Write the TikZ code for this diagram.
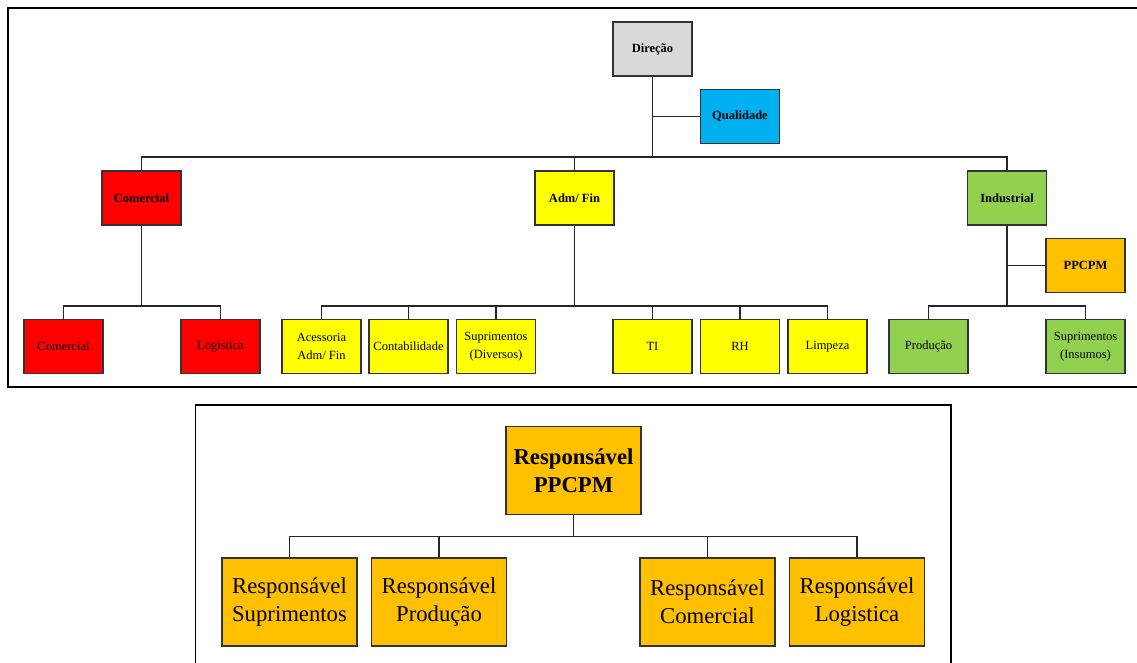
\documentclass[tikz,border=0pt]{standalone}
\usepackage{fontspec}
\setmainfont{Liberation Serif}
\definecolor{cinza}{HTML}{D9D9D9}
\definecolor{azul}{HTML}{00B0F0}
\definecolor{vermelho}{HTML}{FF0000}
\definecolor{amarelo}{HTML}{FFFF00}
\definecolor{verde}{HTML}{92D050}
\definecolor{laranja}{HTML}{FFC000}
\begin{document}
\begin{tikzpicture}[x=1pt, y=-1pt,
	box/.style={rectangle, draw=black!80, line width=1.2pt, minimum width=79pt, minimum height=54pt, inner sep=1pt, align=center, font=\fontsize{12.5}{17.5}\selectfont},
	head/.style={box, font=\fontsize{12.5}{17.5}\selectfont\bfseries},
	resp/.style={box, minimum width=135pt, minimum height=88pt, font=\fontsize{22.7}{28.3}\selectfont},
	link/.style={draw=black!85, line width=1.2pt}]

	\useasboundingbox (0,0) rectangle (1137,663);
	\draw[line width=2pt] (8,8) rectangle (1150,386.5);
	\draw[line width=1.5pt] (195.5,405) rectangle (951,680);

	% organograma geral
	\node (dir) [head, fill=cinza] at (652.5, 49) {Direção};
	\node (qual) [head, fill=azul] at (740, 116.5) {Qualidade};

	\node (com) [head, fill=vermelho] at (141.5, 198) {Comercial};
	\node (adm) [head, fill=amarelo] at (574.5, 198) {Adm/ Fin};
	\node (ind) [head, fill=verde] at (1007, 198) {Industrial};
	\node (ppcpm) [head, fill=laranja] at (1085.5, 265.5) {PPCPM};

	\node (comA) [box, fill=vermelho] at (63.5, 346.5) {Comercial};
	\node (logA) [box, fill=vermelho] at (220.5, 346.5) {Logistica};
	\node (aces) [box, fill=amarelo] at (321.5, 346.5) {Acessoria\\Adm/ Fin};
	\node (cont) [box, fill=amarelo] at (408.5, 346.5) {Contabilidade};
	\node (supD) [box, fill=amarelo] at (496, 346.5) {Suprimentos\\(Diversos)};
	\node (ti) [box, fill=amarelo] at (652.5, 346.5) {TI};
	\node (rh) [box, fill=amarelo] at (740, 346.5) {RH};
	\node (limp) [box, fill=amarelo] at (827.5, 346.5) {Limpeza};
	\node (prod) [box, fill=verde] at (928.5, 346.5) {Produção};
	\node (supI) [box, fill=verde] at (1085.5, 346.5) {Suprimentos\\(Insumos)};

	\coordinate (busDir) at (652.5, 157);
	\coordinate (busCom) at (141.5, 306);
	\coordinate (busAdm) at (574.5, 306);
	\coordinate (busInd) at (1007, 306);

	\draw[link] (dir) -- (busDir);
	\draw[link] (dir) |- (qual);
	\draw[link] (com) |- (busDir);
	\draw[link] (adm) |- (busDir);
	\draw[link] (ind) |- (busDir);

	\draw[link] (com) -- (busCom);
	\draw[link] (comA) |- (busCom);
	\draw[link] (logA) |- (busCom);

	\draw[link] (adm) -- (busAdm);
	\foreach \n in {aces, cont, supD, ti, rh, limp}
		\draw[link] (\n) |- (busAdm);

	\draw[link] (ind) -- (busInd);
	\draw[link] (ppcpm) -| (busInd);
	\draw[link] (prod) |- (busInd);
	\draw[link] (supI) |- (busInd);

	% equipe do PPCPM
	\node (rPpcpm) [resp, fill=laranja, font=\fontsize{22.7}{28.3}\selectfont\bfseries] at (573.5, 470.5) {Responsável\\PPCPM};
	\node (rSup) [resp, fill=laranja] at (289.5, 602) {Responsável\\Suprimentos};
	\node (rProd) [resp, fill=laranja] at (439, 602) {Responsável\\Produção};
	\node (rCom) [resp, fill=laranja] at (707.5, 602) {Responsável\\Comercial};
	\node (rLog) [resp, fill=laranja] at (857, 602) {Responsável\\Logistica};

	\coordinate (busResp) at (573.5, 536.5);
	\draw[link] (rPpcpm) -- (busResp);
	\foreach \n in {rSup, rProd, rCom, rLog}
		\draw[link] (\n) |- (busResp);

\end{tikzpicture}
\end{document}
